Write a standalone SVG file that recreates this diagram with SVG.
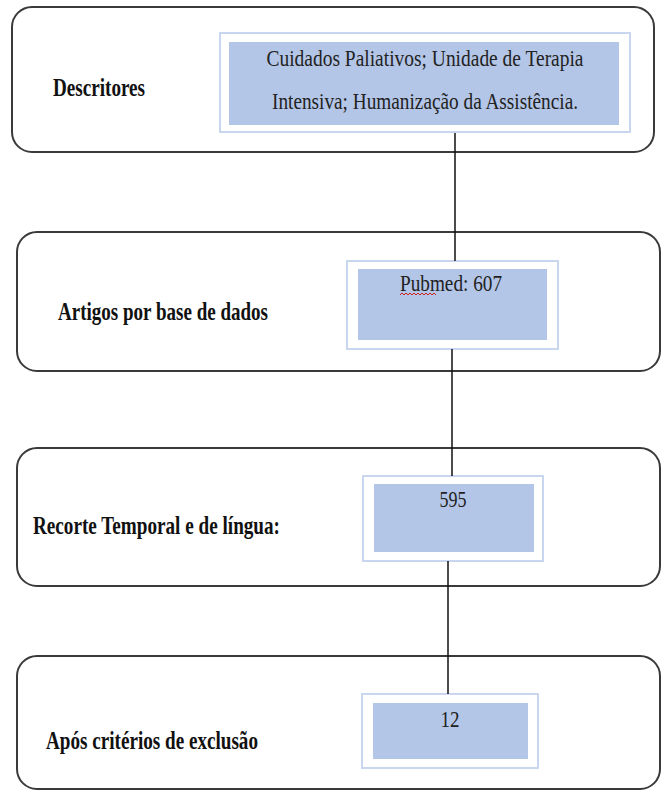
<svg xmlns="http://www.w3.org/2000/svg" width="665" height="792" viewBox="0 0 665 792">
<style>
.outer{fill:#fff;stroke:#3a3a3a;stroke-width:2}
.frame{fill:#fff;stroke:#c9d6ef;stroke-width:2}
.fill{fill:#b4c6e7}
.lbl{font-family:"Liberation Serif","Times New Roman",serif;font-weight:bold;font-size:25px;fill:#111}
.val{font-family:"Liberation Serif","Times New Roman",serif;font-size:24px;fill:#222;text-anchor:middle}
.conn{stroke:#111;stroke-width:1.5;fill:none}
</style>
<rect width="665" height="792" fill="#fff"/>
<g id="n1">
<rect class="outer" x="12" y="7" width="642" height="145" rx="20"/>
<rect class="frame" x="220" y="33" width="410" height="99"/>
<rect class="fill" x="229" y="42" width="390" height="83"/>
<text class="lbl" x="53" y="96" textLength="92" lengthAdjust="spacingAndGlyphs">Descritores</text>
<text class="val" x="425" y="66" textLength="317" lengthAdjust="spacingAndGlyphs">Cuidados Paliativos; Unidade de Terapia</text>
<text class="val" x="425" y="109" textLength="306" lengthAdjust="spacingAndGlyphs">Intensiva; Humanização da Assistência.</text>
</g>
<g id="n2">
<rect class="outer" x="17" y="232" width="643" height="139" rx="20"/>
<rect class="frame" x="347" y="261" width="211" height="88"/>
<rect class="fill" x="358" y="269" width="189" height="71"/>
<text class="lbl" x="58" y="320" textLength="210" lengthAdjust="spacingAndGlyphs">Artigos por base de dados</text>
<text class="val" x="451" y="291" textLength="102" lengthAdjust="spacingAndGlyphs">Pubmed: 607</text>
<path d="M400 295 l2 -2 l2 2 l2 -2 l2 2 l2 -2 l2 2 l2 -2 l2 2 l2 -2 l2 2 l2 -2 l2 2 l2 -2 l2 2 l2 -2 l2 2 l2 -2 l2 2" fill="none" stroke="#d0201c" stroke-width="1"/>
</g>
<g id="n3">
<rect class="outer" x="17" y="448" width="643" height="138" rx="20"/>
<rect class="frame" x="363" y="476" width="180" height="85"/>
<rect class="fill" x="374" y="484" width="160" height="68"/>
<text class="lbl" x="33" y="534" textLength="247" lengthAdjust="spacingAndGlyphs">Recorte Temporal e de língua:</text>
<text class="val" x="453" y="507" textLength="27" lengthAdjust="spacingAndGlyphs">595</text>
</g>
<g id="n4">
<rect class="outer" x="17" y="656" width="643" height="133" rx="20"/>
<rect class="frame" x="362" y="694" width="176" height="74"/>
<rect class="fill" x="373" y="703" width="155" height="56"/>
<text class="lbl" x="46" y="749" textLength="212" lengthAdjust="spacingAndGlyphs">Após critérios de exclusão</text>
<text class="val" x="450" y="727" textLength="19" lengthAdjust="spacingAndGlyphs">12</text>
</g>
<g id="connectors">
<line class="conn" x1="455" y1="133" x2="455" y2="261"/>
<line class="conn" x1="452" y1="349" x2="452" y2="476"/>
<line class="conn" x1="448" y1="561" x2="448" y2="694"/>
</g>
</svg>
